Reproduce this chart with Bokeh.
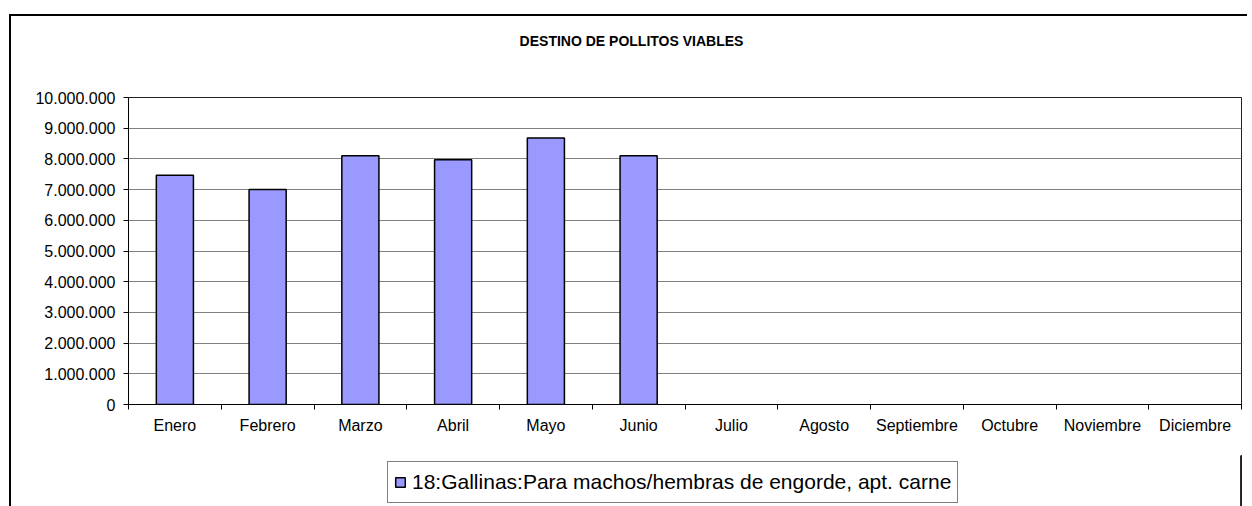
from bokeh.plotting import figure
from bokeh.layouts import column
from bokeh.models import (ColumnDataSource, Range1d, FixedTicker, Legend, LegendItem, Label)
from bokeh.embed import file_html
from bokeh.resources import INLINE

# ---- data ----
title_text = "DESTINO DE POLLITOS VIABLES"
months = ["Enero", "Febrero", "Marzo", "Abril", "Mayo", "Junio", "Julio",
          "Agosto", "Septiembre", "Octubre", "Noviembre", "Diciembre"]
values = [7470000, 7000000, 8100000, 7970000, 8680000, 8100000,
          None, None, None, None, None, None]
series_name = "18:Gallinas:Para machos/hembras de engorde, apt. carne"
y_ticks = [0, 1000000, 2000000, 3000000, 4000000, 5000000,
           6000000, 7000000, 8000000, 9000000, 10000000]
y_labels = ["0", "1.000.000", "2.000.000", "3.000.000", "4.000.000", "5.000.000",
            "6.000.000", "7.000.000", "8.000.000", "9.000.000", "10.000.000"]

FONT = "Liberation Sans"
BAR_FILL = "#9999FF"

xs = [i + 0.5 for i, v in enumerate(values) if v is not None]
tops = [v for v in values if v is not None]
src = ColumnDataSource(dict(x=xs, top=tops))

W = 1236
# frames of the stacked figures are aligned by the column: page x 128..1241
FRAME_L, FRAME_R = 128, 1241

# ---------- title strip ----------
H0 = 44
p0 = figure(width=W, height=H0, output_backend="svg", toolbar_location=None,
            x_range=Range1d(FRAME_L, FRAME_R), y_range=Range1d(0, H0),
            x_axis_location=None, y_axis_location=None, title_location=None,
            min_border_left=0, min_border_right=0, min_border_top=0,
            min_border_bottom=0, background_fill_color="white",
            border_fill_color="white", outline_line_color=None)
p0.grid.visible = False
p0.add_layout(Label(x=631, y=20, text=title_text, text_align="center",
                    text_baseline="middle", text_font=FONT, text_font_size="14px",
                    text_font_style="bold", text_color="black"))

# ---------- main chart ----------
H1 = 395
p = figure(width=W, height=H1, output_backend="svg", toolbar_location=None,
           x_range=Range1d(0, len(months)), y_range=Range1d(y_ticks[0], y_ticks[-1]),
           title_location=None,
           min_border_left=117, min_border_right=6, min_border_top=37,
           min_border_bottom=51, background_fill_color="white",
           border_fill_color="white")

r = p.vbar(x="x", top="top", bottom=0, width=0.4, source=src,
           fill_color=BAR_FILL, line_color="black", line_width=1.5)

p.xaxis.ticker = FixedTicker(ticks=[i + 0.5 for i in range(len(months))],
                             minor_ticks=list(range(len(months) + 1)))
p.xaxis.major_label_overrides = {i + 0.5: m for i, m in enumerate(months)}
p.xaxis.major_tick_line_color = None
p.xaxis.major_tick_out = 0
p.xaxis.major_tick_in = 0
p.xaxis.minor_tick_out = 5
p.xaxis.minor_tick_in = 0
p.xaxis.minor_tick_line_color = "black"
p.xaxis.major_label_standoff = 7
p.xaxis.major_label_text_font = FONT
p.xaxis.major_label_text_font_size = "16px"
p.xaxis.major_label_text_color = "black"
p.xaxis.axis_line_color = "black"

p.yaxis.ticker = FixedTicker(ticks=y_ticks)
p.yaxis.major_label_overrides = {t: l for t, l in zip(y_ticks, y_labels)}
p.yaxis.major_tick_out = 5
p.yaxis.major_tick_in = 0
p.yaxis.minor_tick_line_color = None
p.yaxis.major_tick_line_color = "black"
p.yaxis.major_label_standoff = 8
p.yaxis.major_label_text_font = FONT
p.yaxis.major_label_text_font_size = "16px"
p.yaxis.major_label_text_color = "black"
p.yaxis.axis_line_color = "black"

p.xgrid.grid_line_color = None
p.ygrid.grid_line_color = "#808080"
p.ygrid.grid_line_width = 1
p.outline_line_color = "#222222"
p.outline_line_width = 1

# ---------- legend strip ----------
H2 = 51
p2 = figure(width=W, height=H2, output_backend="svg", toolbar_location=None,
            x_range=Range1d(-20, -19), y_range=Range1d(0, 1),
            x_axis_location=None, y_axis_location=None, title_location=None,
            min_border_left=0, min_border_right=0, min_border_top=0,
            min_border_bottom=0, background_fill_color="white",
            border_fill_color="white", outline_line_color=None)
p2.grid.visible = False
r2 = p2.vbar(x="x", top="top", bottom=0, width=0.4, source=src,
             fill_color=BAR_FILL, line_color="black", line_width=1.5)

legend = Legend(items=[LegendItem(label=series_name, renderers=[r2])],
                location=(259, 3), orientation="vertical",
                padding=6, margin=0, spacing=0,
                glyph_width=12, glyph_height=12, label_height=28,
                label_standoff=6,
                label_text_font=FONT, label_text_font_size="21px",
                label_text_color="black",
                border_line_color="black", border_line_width=1,
                background_fill_color="white", background_fill_alpha=1)
p2.add_layout(legend, "center")

layout = column(p0, p, p2, spacing=0,
                styles={"margin-left": "11px", "margin-top": "16px",
                        "box-shadow": "-2px 0 0 0 black, 0 -2px 0 0 black, -2px -2px 0 0 black"})
open("out.html", "w").write(file_html(layout, INLINE))
